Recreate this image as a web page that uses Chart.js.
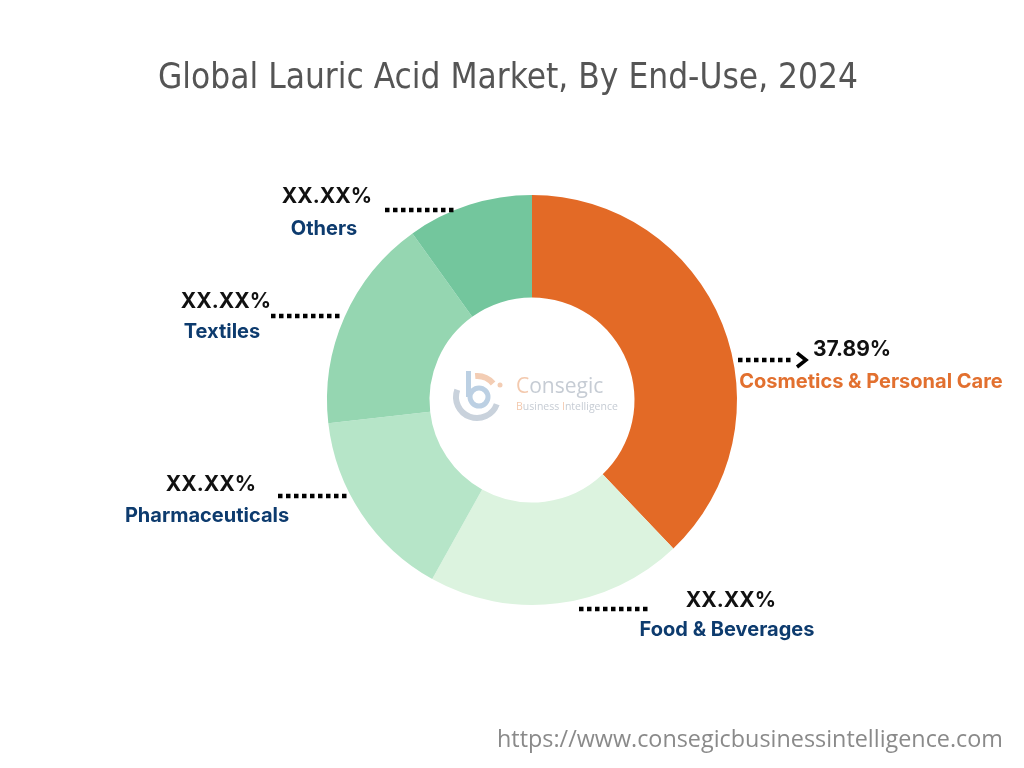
<!DOCTYPE html>
<html>
<head>
<meta charset="utf-8">
<script src="https://cdn.jsdelivr.net/npm/chart.js@4/dist/chart.umd.min.js"></script>
<style>
  html, body { margin: 0; padding: 0; background: #ffffff; }
  #wrap { width: 1024px; height: 768px; }
</style>
</head>
<body>
<div id="wrap"><canvas id="meuGrafico" width="1024" height="768"></canvas></div>
<script>
var categorias = ['Cosmetics & Personal Care', 'Food & Beverages', 'Pharmaceuticals', 'Textiles', 'Others'];
var valores = [37.89, 20.2, 15.1, 16.9, 9.91];
var rotulosPct = ['37.89%', 'XX.XX%', 'XX.XX%', 'XX.XX%', 'XX.XX%'];
var cores = ['#E36A26', '#DCF3DF', '#B6E5C8', '#95D6B1', '#73C69D'];

var titulo = 'Global Lauric Acid Market, By End-Use, 2024';
var rodape = 'https://www.consegicbusinessintelligence.com';

// label placement, offsets from the doughnut centre
var posRotulos = [
    { pct: [320, -50], nome: [339, -18], linha: [206, 262, -40], seta: true, corNome: '#E2702F' },
    { pct: [199, 201], nome: [195, 230], linha: [47, 118, 209] },
    { pct: [-321, 85], nome: [-325, 116], linha: [-254, -182, 96] },
    { pct: [-306, -98], nome: [-310, -68], linha: [-261, -189, -84] },
    { pct: [-205, -203], nome: [-208, -171], linha: [-147, -77, -190] }
];

var rotulosPlugin = {
    id: 'rotulos',
    afterDraw: function (chart) {
        var ctx = chart.ctx;
        var arcos = chart.getDatasetMeta(0).data;
        var cx = arcos[0].x;
        var cy = arcos[0].y;

        ctx.save();

        // title
        ctx.fillStyle = '#555555';
        ctx.font = '36px "DejaVu Sans Condensed", "DejaVu Sans"';
        ctx.textAlign = 'center';
        ctx.textBaseline = 'middle';
        ctx.fillText(titulo, 508, 79, 700);

        // footer
        ctx.fillStyle = '#8a8a8a';
        ctx.font = '23.5px "Open Sans"';
        ctx.textAlign = 'right';
        ctx.fillText(rodape, 1003, 740, 506);

        // labels + dotted leaders
        posRotulos.forEach(function (p, i) {
            ctx.fillStyle = '#111111';
            ctx.font = 'bold 21px Inter';
            ctx.textAlign = 'center';
            ctx.textBaseline = 'middle';
            ctx.fillText(rotulosPct[i], cx + p.pct[0], cy + p.pct[1]);

            ctx.fillStyle = p.corNome || '#0D3B6E';
            ctx.font = 'bold 20px Inter';
            ctx.fillText(categorias[i], cx + p.nome[0], cy + p.nome[1], 268);

            ctx.beginPath();
            ctx.setLineDash([4.5, 3.5]);
            ctx.lineWidth = 4.5;
            ctx.strokeStyle = '#000000';
            ctx.moveTo(cx + p.linha[0], cy + p.linha[2]);
            ctx.lineTo(cx + p.linha[1], cy + p.linha[2]);
            ctx.stroke();
            ctx.setLineDash([]);

            if (p.seta) {
                var tx = cx + p.linha[1] + 12;
                var ty = cy + p.linha[2];
                ctx.beginPath();
                ctx.lineWidth = 3.5;
                ctx.lineJoin = 'miter';
                ctx.moveTo(tx - 9, ty - 7);
                ctx.lineTo(tx, ty);
                ctx.lineTo(tx - 9, ty + 7);
                ctx.stroke();
            }
        });

        // logo in the hole
        var lx = cx - 55;
        var ly = cy - 3;
        ctx.lineCap = 'butt';
        ctx.lineWidth = 6;
        ctx.strokeStyle = '#C9D2DC';
        ctx.beginPath();
        ctx.arc(lx, ly, 21, 20 * Math.PI / 180, 200 * Math.PI / 180);
        ctx.stroke();
        ctx.strokeStyle = '#F3CDB4';
        ctx.beginPath();
        ctx.arc(lx, ly, 21, -95 * Math.PI / 180, -40 * Math.PI / 180);
        ctx.stroke();
        ctx.fillStyle = '#F3CDB4';
        ctx.beginPath();
        ctx.arc(lx + 23, ly - 12, 2.5, 0, Math.PI * 2);
        ctx.fill();
        ctx.strokeStyle = '#BCD0E3';
        ctx.lineWidth = 5;
        ctx.beginPath();
        ctx.arc(lx + 2, ly, 9, 0, Math.PI * 2);
        ctx.stroke();
        ctx.fillStyle = '#BCD0E3';
        ctx.fillRect(lx - 11, ly - 26, 5, 26);

        ctx.textAlign = 'left';
        ctx.textBaseline = 'middle';
        ctx.font = '21px "Open Sans"';
        ctx.fillStyle = '#F3C9AE';
        ctx.fillText('C', cx - 16, cy - 13);
        var wc = ctx.measureText('C').width;
        ctx.fillStyle = '#C6CCD4';
        ctx.fillText('onsegic', cx - 16 + wc, cy - 13);

        ctx.font = '10.5px "Open Sans"';
        var x = cx - 16;
        [['B', '#F3C9AE'], ['usiness ', '#C6CCD4'], ['I', '#F3C9AE'], ['ntelligence', '#C6CCD4']].forEach(function (parte) {
            ctx.fillStyle = parte[1];
            ctx.fillText(parte[0], x, cy + 7);
            x += ctx.measureText(parte[0]).width;
        });

        ctx.restore();
    }
};

var ctx = document.getElementById('meuGrafico').getContext('2d');

var meuGrafico = new Chart(ctx, {
    type: 'doughnut',
    data: {
        labels: categorias,
        datasets: [{
            data: valores,
            backgroundColor: cores,
            borderWidth: 0,
            hoverOffset: 0
        }]
    },
    options: {
        responsive: false,
        animation: false,
        devicePixelRatio: 1,
        cutout: '50%',
        events: [],
        layout: {
            padding: { left: 327, right: 287, top: 195, bottom: 163 }
        },
        plugins: {
            legend: { display: false },
            tooltip: { enabled: false }
        }
    },
    plugins: [rotulosPlugin]
});
</script>
</body>
</html>
